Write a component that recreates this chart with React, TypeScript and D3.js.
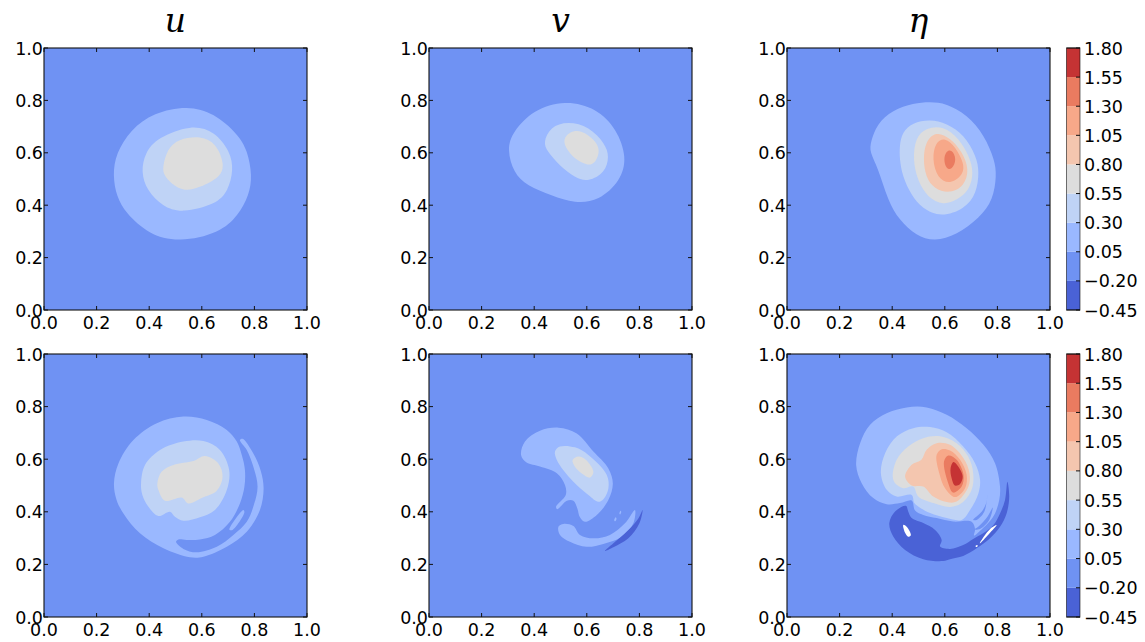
import React from "react";
import * as d3 from "d3";

type P = [number, number];

const levels = [-0.45, -0.2, 0.05, 0.3, 0.55, 0.8, 1.05, 1.3, 1.55, 1.8];
const levelLabels = ["\u22120.45", "\u22120.20", "0.05", "0.30", "0.55", "0.80", "1.05", "1.30", "1.55", "1.80"];
const bandColors = ["#4a62d6", "#6f92f3", "#9ab8ff", "#bfd3f6", "#dddddd", "#f4c6af", "#f7a889", "#ea7b60", "#c53334"];
const axisTicks = [0, 0.2, 0.4, 0.6, 0.8, 1];
const titles = ["u", "v", "\u03b7"];

// ---- contours, in data coordinates ----
const uTop1: P[] = [[.266,.515],[.280,.598],[.335,.685],[.422,.747],[.543,.772],[.644,.744],[.730,.672],[.770,.605],[.787,.515],[.775,.439],[.733,.363],[.657,.299],[.517,.268],[.403,.296],[.318,.369],[.280,.435]];
const uTop2: P[] = [[.375,.528],[.390,.598],[.441,.655],[.555,.697],[.644,.674],[.701,.604],[.715,.534],[.695,.458],[.644,.407],[.530,.378],[.454,.401],[.397,.458]];
const uTop3: P[] = [[.454,.547],[.473,.611],[.517,.649],[.593,.659],[.650,.630],[.679,.560],[.663,.509],[.593,.471],[.536,.458],[.486,.484],[.460,.515]];

const vTop1: P[] = [[.304,.611],[.327,.681],[.403,.757],[.517,.791],[.631,.763],[.707,.687],[.743,.585],[.720,.496],[.644,.426],[.555,.413],[.467,.439],[.378,.477],[.327,.528]];
const vTop2: P[] = [[.441,.642],[.467,.694],[.530,.714],[.606,.694],[.663,.636],[.680,.585],[.663,.528],[.606,.496],[.555,.509],[.498,.553],[.454,.604]];
const vTop3: P[] = [[.515,.649],[.536,.677],[.581,.681],[.625,.649],[.646,.611],[.631,.566],[.600,.556],[.555,.579],[.524,.617]];

const etaTop1: P[] = [[.319,.600],[.322,.645],[.347,.708],[.404,.759],[.480,.786],[.544,.792],[.607,.783],[.683,.740],[.747,.664],[.785,.575],[.793,.511],[.778,.423],[.727,.353],[.645,.292],[.563,.269],[.493,.289],[.430,.346],[.385,.423],[.347,.537]];
const etaTop2: P[] = [[.430,.626],[.442,.676],[.481,.711],[.544,.723],[.607,.708],[.670,.664],[.715,.588],[.727,.524],[.715,.448],[.670,.391],[.588,.363],[.518,.391],[.474,.442],[.442,.511],[.430,.575]];
const etaTop3: P[] = [[.483,.575],[.493,.651],[.531,.689],[.594,.695],[.651,.651],[.689,.588],[.705,.524],[.689,.461],[.645,.423],[.594,.407],[.537,.435],[.499,.499]];
const etaTop4: P[] = [[.521,.575],[.531,.638],[.569,.673],[.620,.651],[.664,.600],[.686,.537],[.670,.480],[.620,.451],[.563,.467],[.531,.511]];
const etaTop5: P[] = [[.557,.575],[.567,.632],[.601,.651],[.639,.619],[.668,.562],[.664,.518],[.620,.487],[.575,.511]];
const etaTop6: P[] = [[.598,.575],[.607,.603],[.626,.607],[.641,.575],[.626,.541],[.607,.543]];

// u (bottom): the 0.05 contour spirals from the disc round the thin outer arm
const uBot1: P[] = [[.530,.762],[.619,.749],[.695,.711],[.733,.667],[.752,.616],[.764,.559],[.762,.495],[.745,.432],[.707,.362],[.650,.312],[.593,.295],[.542,.293],[.511,.295],[.502,.286],[.530,.259],[.580,.246],[.657,.267],[.720,.312],[.771,.362],[.796,.420],[.812,.495],[.796,.571],[.771,.635],[.745,.673],[.755,.678],[.796,.622],[.824,.556],[.835,.489],[.821,.407],[.771,.324],[.695,.267],[.606,.229],[.555,.227],[.454,.261],[.365,.318],[.302,.394],[.276,.445],[.266,.508],[.283,.584],[.340,.673],[.429,.737]];
const uBotStreak: P[] = [[.705,.332],[.758,.407],[.762,.398],[.717,.331]];
const uBot2: P[] = [[.369,.508],[.384,.578],[.441,.635],[.530,.667],[.606,.669],[.669,.635],[.704,.559],[.695,.483],[.650,.407],[.593,.379],[.530,.366],[.498,.381],[.479,.400],[.435,.384],[.397,.419],[.374,.464]];
const uBot3: P[] = [[.431,.508],[.447,.552],[.492,.578],[.568,.593],[.612,.612],[.663,.584],[.679,.533],[.657,.480],[.606,.455],[.548,.432],[.524,.454],[.460,.442],[.435,.483]];

const vBot1a: P[] = [[.350,.616],[.365,.667],[.422,.708],[.492,.720],[.562,.698],[.625,.629],[.682,.565],[.699,.508],[.682,.445],[.638,.388],[.593,.362],[.574,.379],[.564,.413],[.549,.442],[.524,.442],[.488,.410],[.483,.419],[.520,.464],[.517,.502],[.486,.547],[.422,.572],[.371,.587]];
const vBot2: P[] = [[.479,.629],[.498,.648],[.555,.645],[.606,.616],[.676,.540],[.682,.489],[.663,.448],[.644,.438],[.606,.464],[.549,.514],[.511,.558],[.486,.597]];
const vBot3: P[] = [[.546,.597],[.568,.610],[.597,.597],[.625,.552],[.612,.530],[.581,.546],[.555,.571]];
const vBot1b: P[] = [[.492,.343],[.511,.354],[.549,.346],[.574,.312],[.625,.299],[.688,.312],[.745,.356],[.783,.407],[.777,.356],[.733,.305],[.663,.278],[.599,.267],[.536,.286],[.498,.312]];
const vBotDark: P[] = [[.812,.407],[.800,.356],[.758,.299],[.701,.265],[.669,.251],[.701,.280],[.758,.331],[.796,.375]];
const vBotSpeck1: P[] = [[.704,.368],[.710,.379],[.713,.374],[.708,.364]];
const vBotSpeck2: P[] = [[.724,.393],[.728,.404],[.731,.400],[.727,.390]];

const etaBotDark: P[] = [[.452,.423],[.411,.401],[.389,.357],[.404,.306],[.449,.255],[.518,.220],[.594,.213],[.620,.220],[.670,.232],[.721,.261],[.772,.299],[.810,.343],[.835,.394],[.845,.457],[.838,.514],[.829,.445],[.810,.394],[.785,.350],[.746,.318],[.708,.297],[.670,.274],[.620,.259],[.582,.268],[.588,.293],[.563,.331],[.518,.357],[.474,.376],[.461,.401]];
const etaBotHole: P[] = [[.442,.350],[.455,.343],[.471,.311],[.461,.305],[.449,.320]];
const etaBotSliver: P[] = [[.797,.350],[.768,.316],[.733,.280],[.745,.300],[.777,.339]];
const etaBotDot: P[] = [[.718,.272],[.724,.274],[.724,.268],[.718,.266]];
const etaBot1: P[] = [[.263,.577],[.278,.661],[.316,.731],[.379,.775],[.455,.797],[.531,.797],[.607,.769],[.683,.718],[.747,.655],[.791,.585],[.810,.495],[.807,.445],[.791,.394],[.769,.362],[.740,.333],[.711,.310],[.715,.333],[.702,.362],[.632,.363],[.569,.376],[.518,.388],[.487,.405],[.474,.443],[.430,.433],[.379,.429],[.328,.452],[.284,.509]];
const etaBotGapA: P[] = [[.762,.464],[.757,.432],[.740,.400],[.708,.369],[.721,.369],[.750,.400]];
const etaBotGapB: P[] = [[.782,.416],[.762,.381],[.727,.343],[.711,.333],[.734,.335],[.769,.369]];
const etaBot2: P[] = [[.357,.547],[.373,.623],[.418,.687],[.480,.718],[.544,.722],[.607,.702],[.670,.648],[.715,.585],[.734,.522],[.728,.471],[.696,.407],[.664,.369],[.607,.376],[.544,.395],[.499,.420],[.484,.433],[.474,.464],[.417,.458],[.379,.484]];
const etaBot3: P[] = [[.402,.534],[.417,.598],[.461,.648],[.518,.680],[.582,.687],[.645,.661],[.689,.610],[.708,.547],[.702,.484],[.664,.433],[.620,.418],[.556,.433],[.499,.458],[.480,.496],[.442,.490],[.411,.509]];
const etaBot4: P[] = [[.449,.534],[.474,.579],[.511,.598],[.531,.636],[.569,.661],[.620,.655],[.671,.604],[.694,.547],[.690,.496],[.645,.439],[.607,.437],[.556,.458],[.518,.496],[.474,.500]];
const etaBot5: P[] = [[.569,.617],[.589,.638],[.620,.633],[.658,.598],[.683,.541],[.677,.490],[.639,.456],[.601,.490],[.579,.547]];
const etaBot6: P[] = [[.597,.591],[.613,.614],[.645,.598],[.671,.541],[.664,.496],[.632,.473],[.613,.509]];
const etaBot7: P[] = [[.622,.566],[.633,.589],[.651,.572],[.668,.534],[.658,.506],[.639,.500],[.626,.528]];

// band index (into bandColors) per contour, -1 = undefined (white hole)
type Layer = [number, P[]];
const panelLayers: Layer[][] = [
  [[2, uTop1], [3, uTop2], [4, uTop3]],
  [[2, vTop1], [3, vTop2], [4, vTop3]],
  [[2, etaTop1], [3, etaTop2], [4, etaTop3], [5, etaTop4], [6, etaTop5], [7, etaTop6]],
  [[2, uBot1], [2, uBotStreak], [3, uBot2], [4, uBot3]],
  [[2, vBot1a], [3, vBot2], [4, vBot3], [2, vBot1b], [0, vBotDark], [2, vBotSpeck1], [2, vBotSpeck2]],
  [[0, etaBotDark], [2, etaBot1], [1, etaBotGapA], [1, etaBotGapB], [-1, etaBotHole], [-1, etaBotSliver], [-1, etaBotDot], [3, etaBot2], [4, etaBot3], [5, etaBot4], [6, etaBot5], [7, etaBot6], [8, etaBot7]],
];

const colLefts = [44, 429, 787];
const rowTops = [48, 354];
const rowBottoms = [310, 617];
const panelW = 263;
const font = "'DejaVu Sans', sans-serif";
const fs = 17.5;
const frame = "#111";

// Blobs without sharp tips: a closed B-spline through the read points
function deShrink(pts: [number, number][]): [number, number][] {
  const n = pts.length;
  return pts.map((p, i) => {
    const a = pts[(i + n - 1) % n];
    const b = pts[(i + 1) % n];
    return [p[0] - (a[0] + b[0] - 2 * p[0]) / 6, p[1] - (a[1] + b[1] - 2 * p[1]) / 6];
  });
}

function Panel({ col, row, layers }: { col: number; row: number; layers: Layer[] }) {
  const L = colLefts[col];
  const x = d3.scaleLinear().domain([0, 1]).range([L, L + panelW]);
  const y = d3.scaleLinear().domain([0, 1]).range([rowBottoms[row], rowTops[row]]);
  const sharp = d3.line<P>().x((d) => x(d[0])).y((d) => y(d[1])).curve(d3.curveCatmullRomClosed.alpha(0.5));
  const smooth = d3.line<P>().x((d) => d[0]).y((d) => d[1]).curve(d3.curveBasisClosed);
  const dOf = (pts: P[]) =>
    row === 0 ? (smooth(deShrink(pts.map((p) => [x(p[0]), y(p[1])] as P))) as string) : (sharp(pts) as string);
  return (
    <g>
      <rect x={x(0)} y={y(1)} width={panelW} height={y(0) - y(1)} fill={bandColors[1]} />
      {layers.map(([band, pts], i) => (
        <path key={i} d={dOf(pts)} fill={band < 0 ? "#ffffff" : bandColors[band]} />
      ))}
      <rect x={x(0)} y={y(1)} width={panelW} height={y(0) - y(1)} fill="none" stroke={frame} strokeWidth={1.1} />
      {axisTicks.map((t) => (
        <g key={t} stroke={frame} strokeWidth={1}>
          <line x1={x(t)} x2={x(t)} y1={y(0)} y2={y(0) - 4} />
          <line x1={x(t)} x2={x(t)} y1={y(1)} y2={y(1) + 4} />
          <line x1={x(0)} x2={x(0) + 4} y1={y(t)} y2={y(t)} />
          <line x1={x(1)} x2={x(1) - 4} y1={y(t)} y2={y(t)} />
        </g>
      ))}
      {axisTicks.map((t) => (
        <text key={"x" + t} x={x(t)} y={y(0) + 19} textAnchor="middle" fontFamily={font} fontSize={fs} fill="#000">
          {t.toFixed(1)}
        </text>
      ))}
      {axisTicks.map((t) => (
        <text key={"y" + t} x={x(0) - 1} y={y(t) + 6.5} textAnchor="end" fontFamily={font} fontSize={fs} fill="#000">
          {t.toFixed(1)}
        </text>
      ))}
    </g>
  );
}

function Colorbar({ row }: { row: number }) {
  const c = d3.scaleLinear().domain([levels[0], levels[9]]).range([rowBottoms[row], rowTops[row]]);
  const left = 1066.5;
  const w = 13.5;
  return (
    <g>
      {bandColors.map((col, i) => (
        <rect key={i} x={left} y={c(levels[i + 1])} width={w} height={c(levels[i]) - c(levels[i + 1])} fill={col} />
      ))}
      <rect x={left} y={c(levels[9])} width={w} height={c(levels[0]) - c(levels[9])} fill="none" stroke="#000" strokeOpacity={0.55} strokeWidth={1} />
      <line x1={left} x2={left + w} y1={c(levels[9])} y2={c(levels[9])} stroke="#111" />
      <line x1={left} x2={left + w} y1={c(levels[0])} y2={c(levels[0])} stroke="#111" />
      {levels.map((v, i) => (
        <g key={v}>
          <line x1={left + w - 4} x2={left + w} y1={c(v)} y2={c(v)} stroke="#111" />
          <text x={1084} y={c(v) + 6.5} fontFamily={font} fontSize={fs} fill="#000">
            {levelLabels[i]}
          </text>
        </g>
      ))}
    </g>
  );
}

export default function App() {
  return (
    <svg
      width={1145}
      height={642}
      viewBox="0 0 1145 642"
      style={{ position: "absolute", left: 0, top: 0, display: "block", background: "#fff" }}
    >
      {titles.map((t, i) => (
        <text
          key={t}
          x={colLefts[i] + panelW / 2}
          y={32}
          textAnchor="middle"
          fontFamily="'DejaVu Serif', serif"
          fontStyle="italic"
          fontSize={33}
          fill="#000"
        >
          {t}
        </text>
      ))}
      {panelLayers.map((layers, i) => (
        <Panel key={i} col={i % 3} row={Math.floor(i / 3)} layers={layers} />
      ))}
      <Colorbar row={0} />
      <Colorbar row={1} />
    </svg>
  );
}
